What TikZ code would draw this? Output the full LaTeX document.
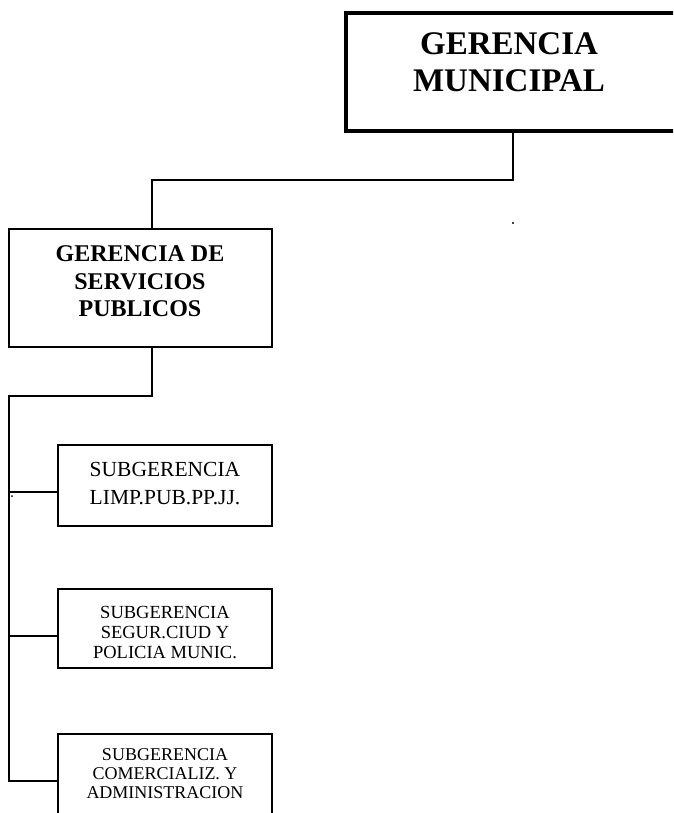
\documentclass[tikz,border=0pt]{standalone}
\usepackage{fontspec}
\setmainfont{Liberation Serif}
\begin{document}
\begin{tikzpicture}[x=1pt,y=-1pt,
  frame/.style={draw, inner sep=0pt, line width=2pt},
  topframe/.style={frame, line width=4pt},
  label/.style={inner sep=0pt, align=center},
  wire/.style={line width=2pt, line join=miter}]
\useasboundingbox (0,0) rectangle (673,813);
\clip (0,0) rectangle (673,813);

% boxes
\node[topframe, minimum width=334pt, minimum height=118pt] (gm) at (513,72) {};
\node[frame, minimum width=263pt, minimum height=118pt] (gsp) at (140.5,288) {};
\node[frame, minimum width=214pt, minimum height=81pt] (s1) at (165,485.5) {};
\node[frame, minimum width=214pt, minimum height=79pt] (s2) at (165,628.5) {};
\node[frame, minimum width=214pt, minimum height=81pt] (s3) at (165,774.5) {};

% box texts
\node[label, font=\fontsize{33}{37}\selectfont\bfseries] (gmt) at (509,62.6) {GERENCIA\\MUNICIPAL};
\node[label, font=\fontsize{24}{27.5}\selectfont\bfseries] (gspt) at (140,281.5) {GERENCIA DE\\SERVICIOS\\PUBLICOS};
\node[label, font=\fontsize{21.5}{28}\selectfont] (s1t) at (165,484) {SUBGERENCIA\\LIMP.PUB.PP.JJ.};
\node[label, font=\fontsize{18.5}{20}\selectfont] (s2t) at (165,632) {SUBGERENCIA\\SEGUR.CIUD Y\\POLICIA MUNIC.};
\node[label, font=\fontsize{18}{19}\selectfont] (s3t) at (165,773.5) {SUBGERENCIA\\COMERCIALIZ. Y\\ADMINISTRACION};

% junction points of the connectors
\coordinate (j1) at (152,180);
\coordinate (j2) at (152,396);
\coordinate (t1) at (9,492);
\coordinate (t2) at (9,636);
\coordinate (t3) at (9,781);

% connectors
\draw[wire] (gm.south) |- (j1) -- (j1 |- gsp.north);
\draw[wire] (j2 |- gsp.south) -- (j2) -| (t3) -- (t3 -| s3.west);
\draw[wire] (t1) -- (t1 -| s1.west);
\draw[wire] (t2) -- (t2 -| s2.west);

% stray dots
\fill (513,223) circle (1.2pt);
\fill (12,496) circle (1pt);
\end{tikzpicture}
\end{document}
